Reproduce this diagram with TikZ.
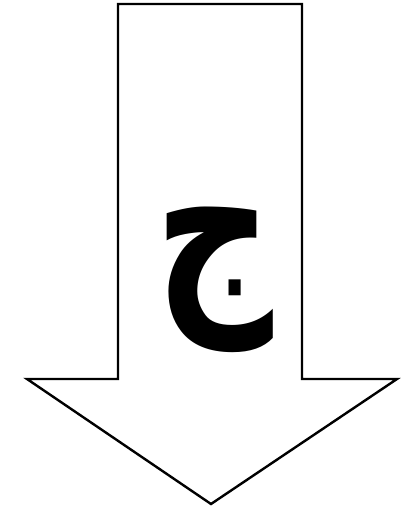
\documentclass[tikz,border=0pt]{standalone}
\usepackage{fontspec}
\newfontfamily\arabicfont[Script=Arabic]{DejaVu Sans}
\TeXXeTstate=1

\begin{document}
\begin{tikzpicture}[
  x=1pt, y=1pt,
  arrowshape/.style={draw, line width=2.4pt, fill=white, line join=miter},
  letter/.style={inner sep=0pt, yscale=1.32, font=\arabicfont\bfseries\fontsize{165}{165}\selectfont}
]
\useasboundingbox (0,0) rectangle (406,508);
% big down arrow
\draw[arrowshape] (118,504) -- (302,504) -- (302,129) -- (397,129)
  -- (211,4) -- (27,129) -- (118,129) -- cycle;
\node[letter] (jeem) at (214,228) {\beginR ج\endR};
\end{tikzpicture}
\end{document}
